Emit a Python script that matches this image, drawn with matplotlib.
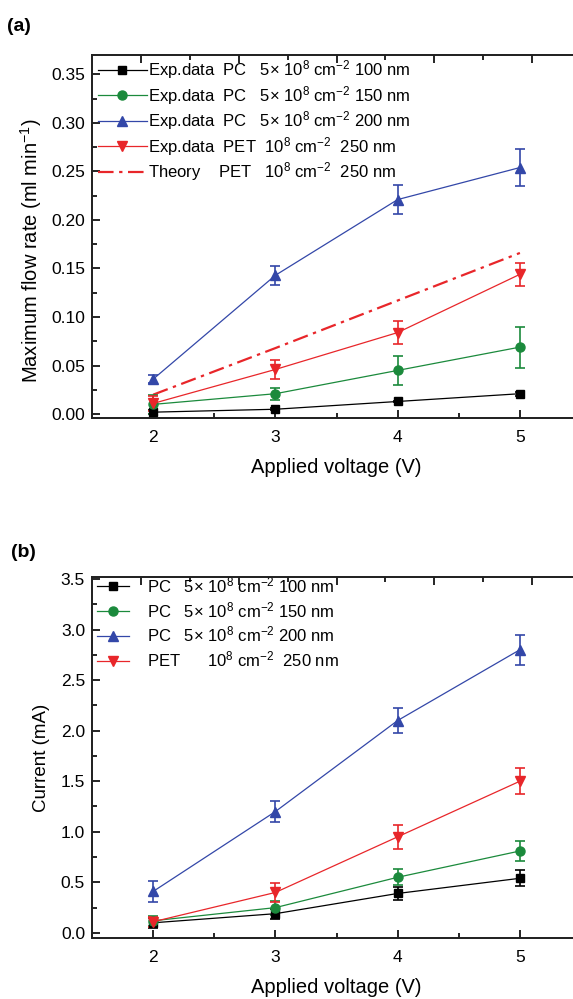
import matplotlib
matplotlib.use("Agg")
import matplotlib.pyplot as plt
from matplotlib.ticker import MultipleLocator, FixedLocator, NullFormatter

plt.rcParams['font.family'] = ['Liberation Sans', 'DejaVu Sans']
plt.rcParams['mathtext.fontset'] = 'custom'
plt.rcParams['mathtext.rm'] = 'Liberation Sans'
plt.rcParams['mathtext.it'] = 'Liberation Sans:italic'
plt.rcParams['mathtext.bf'] = 'Liberation Sans:bold'

voltage = [2, 3, 4, 5]

# (a) maximum flow rate, ml/min
flow_pc100 = [0.002, 0.005, 0.013, 0.021]
flow_pc100_err = [0.002, 0.001, 0.001, 0.002]
flow_pc150 = [0.010, 0.021, 0.045, 0.069]
flow_pc150_err = [0.010, 0.006, 0.015, 0.021]
flow_pc200 = [0.036, 0.143, 0.221, 0.254]
flow_pc200_err = [0.004, 0.010, 0.015, 0.019]
flow_pet250 = [0.011, 0.046, 0.084, 0.144]
flow_pet250_err = [0.008, 0.010, 0.012, 0.012]
flow_theory = [0.020, 0.068, 0.117, 0.166]

# (b) current, mA
cur_pc100 = [0.10, 0.19, 0.39, 0.54]
cur_pc100_err = [0.05, 0.05, 0.06, 0.08]
cur_pc150 = [0.12, 0.25, 0.55, 0.81]
cur_pc150_err = [0.05, 0.07, 0.08, 0.10]
cur_pc200 = [0.41, 1.20, 2.10, 2.80]
cur_pc200_err = [0.10, 0.10, 0.12, 0.15]
cur_pet250 = [0.11, 0.40, 0.95, 1.50]
cur_pet250_err = [0.05, 0.09, 0.12, 0.13]

labels_a = [
    r'Exp.data  PC   5$\times$ 10$^{8}$ cm$^{-2}$ 100 nm',
    r'Exp.data  PC   5$\times$ 10$^{8}$ cm$^{-2}$ 150 nm',
    r'Exp.data  PC   5$\times$ 10$^{8}$ cm$^{-2}$ 200 nm',
    r'Exp.data  PET  10$^{8}$ cm$^{-2}$  250 nm',
    r'Theory    PET   10$^{8}$ cm$^{-2}$  250 nm',
]
labels_b = [
    r'PC   5$\times$ 10$^{8}$ cm$^{-2}$ 100 nm',
    r'PC   5$\times$ 10$^{8}$ cm$^{-2}$ 150 nm',
    r'PC   5$\times$ 10$^{8}$ cm$^{-2}$ 200 nm',
    r'PET      10$^{8}$ cm$^{-2}$  250 nm',
]

colors = ['black', '#1b8a3c', '#3347a8', '#e8262a']
markers = ['s', 'o', '^', 'v']
msizes = [5.5, 6.5, 7.5, 7.5]

top_major = [1.9, 2.7, 3.5, 4.3, 5.1]
top_minor = [2.3, 3.1, 3.9, 4.7]


def style_axes(ax, ylim, ymajor, yfmt):
    ax.set_xlim(1.5, 5.5)
    ax.set_ylim(*ylim)
    ax.xaxis.set_major_locator(MultipleLocator(1))
    ax.xaxis.set_minor_locator(MultipleLocator(0.5))
    ax.yaxis.set_major_locator(MultipleLocator(ymajor))
    ax.yaxis.set_minor_locator(MultipleLocator(ymajor / 2))
    ax.yaxis.set_major_formatter(plt.FormatStrFormatter(yfmt))
    ax.tick_params(which='both', direction='in', labelsize=12.5, width=1.2)
    ax.tick_params(which='major', length=6)
    ax.tick_params(axis='x', which='major', pad=9)
    ax.tick_params(axis='y', which='major', pad=5)
    ax.tick_params(which='minor', length=3.5)
    for s in ax.spines.values():
        s.set_linewidth(1.3)
        s.set_color('#222222')
    ax.set_xlabel('Applied voltage (V)', fontsize=14.5, labelpad=9)
    # top axis with its own tick set, as in the original
    top = ax.twiny()
    top.set_xlim(ax.get_xlim())
    top.xaxis.set_major_locator(FixedLocator(top_major))
    top.xaxis.set_minor_locator(FixedLocator(top_minor))
    top.xaxis.set_major_formatter(NullFormatter())
    top.tick_params(which='both', direction='in', width=1.2)
    top.tick_params(which='major', length=6)
    top.tick_params(which='minor', length=3.5)
    for s in top.spines.values():
        s.set_linewidth(1.3)
        s.set_color('#222222')


fig = plt.figure(figsize=(5.73, 9.99), dpi=100)
ax1 = fig.add_axes([0.1606, 0.5816, 0.8534, 0.3634])
ax2 = fig.add_axes([0.1606, 0.0611, 0.8534, 0.3614])

# panel (a)
series_a = [(flow_pc100, flow_pc100_err), (flow_pc150, flow_pc150_err),
            (flow_pc200, flow_pc200_err), (flow_pet250, flow_pet250_err)]
for i, (vals, errs) in enumerate(series_a):
    ax1.errorbar(voltage, vals, yerr=errs, fmt='none', ecolor=colors[i],
                 elinewidth=1.2, capsize=3.5, capthick=1.2, zorder=3)
    ax1.plot(voltage, vals, '-', color=colors[i], lw=0.9, marker=markers[i],
             ms=msizes[i], label=labels_a[i], zorder=4)
ax1.plot(voltage, flow_theory, color='#e8262a', lw=1.6,
         linestyle=(0, (7, 2.5, 1.5, 2.5)), label=labels_a[4], zorder=2)
style_axes(ax1, (-0.004, 0.37), 0.05, '%.2f')
ax1.set_ylabel('Maximum flow rate (ml min$^{-1}$)', fontsize=14.5)
ax1.yaxis.set_label_coords(-0.098, 0.46)
ax1.legend(loc='upper left', bbox_to_anchor=(0.012, 0.99), frameon=False,
           fontsize=12, handlelength=2.95, handletextpad=0.05,
           labelspacing=0.15, borderaxespad=0, borderpad=0)

# panel (b)
series_b = [(cur_pc100, cur_pc100_err), (cur_pc150, cur_pc150_err),
            (cur_pc200, cur_pc200_err), (cur_pet250, cur_pet250_err)]
for i, (vals, errs) in enumerate(series_b):
    ax2.errorbar(voltage, vals, yerr=errs, fmt='none', ecolor=colors[i],
                 elinewidth=1.2, capsize=3.5, capthick=1.2, zorder=3)
    ax2.plot(voltage, vals, '-', color=colors[i], lw=0.9, marker=markers[i],
             ms=msizes[i], label=labels_b[i], zorder=4)
style_axes(ax2, (-0.05, 3.52), 0.5, '%.1f')
ax2.set_ylabel('Current (mA)', fontsize=13.5, labelpad=8)
ax2.legend(loc='upper left', bbox_to_anchor=(0.01, 1.005), frameon=False,
           fontsize=12, handlelength=1.9, handletextpad=1.1,
           labelspacing=0.3, borderaxespad=0, borderpad=0)

fig.text(0.012, 0.973, '(a)', fontsize=14, fontweight='bold', va='center')
fig.text(0.02, 0.447, '(b)', fontsize=14, fontweight='bold', va='center')

fig.savefig('out.png', dpi=100)
